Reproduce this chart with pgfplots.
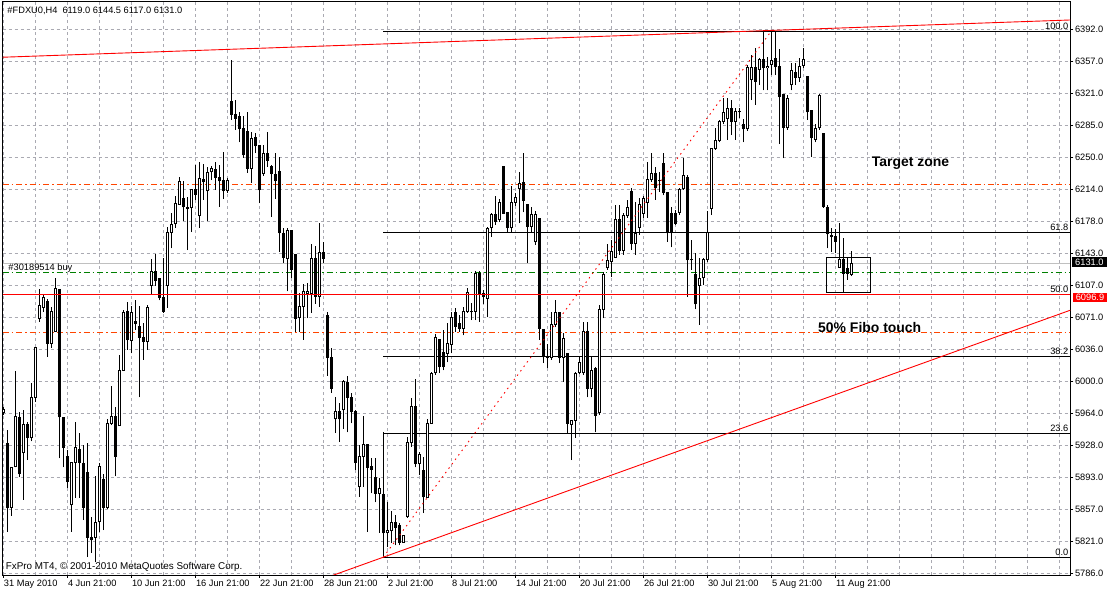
\documentclass[border=0pt]{standalone}
\usepackage{fontspec}
\setmainfont{Liberation Sans}
\usepackage{pgfplots}
\pgfplotsset{compat=1.18}
\usepackage{pgfplotstable}
\definecolor{orred}{RGB}{255,69,0}
\definecolor{mtgreen}{RGB}{0,128,0}
\definecolor{gridc}{RGB}{170,170,178}
\definecolor{bidc}{RGB}{192,192,192}
\newcommand\mtf{\fontsize{9.3}{11}\selectfont}
\newcommand\mtb{\fontsize{14}{16}\selectfont\bfseries}

\pgfplotstableread{
k o h l c
0 5965 5971 5962 5968
1 5931 5946 5832 5859
2 5859 5904 5850 5904
3 5905 6011 5904 5961
4 5960 5966 5893 5897
5 5920 5968 5868 5952
6 5952 5955 5912 5937
7 5937 5998 5933 5982
8 5982 6037 5977 6037
9 6070 6103 6066 6084
10 6082 6097 6077 6093
11 6089 6092 6027 6042
12 6042 6083 6037 6078
13 6055 6115 6055 6103
14 6102 6102 5914 5960
15 5959 5959 5904 5926
16 5916 5923 5881 5888
17 5862 5909 5832 5909
18 5909 5955 5870 5926
19 5924 5942 5870 5909
20 5908 5929 5845 5859
21 5898 5931 5804 5826
22 5826 5849 5809 5823
23 5826 5894 5798 5843
24 5843 5909 5832 5905
25 5890 5897 5834 5859
26 5859 5958 5858 5953
27 5953 5995 5951 5961
28 5961 5971 5894 5916
29 5950 6029 5950 6012
30 6012 6079 6011 6077
31 6078 6088 6035 6046
32 6045 6084 6031 6077
33 6067 6090 6057 6064
34 6061 6084 5982 6049
35 6049 6065 6024 6044
36 6044 6085 6035 6082
37 6107 6136 6097 6122
38 6122 6142 6106 6112
39 6114 6114 6090 6093
40 6093 6137 6076 6078
41 6107 6172 6082 6166
42 6166 6187 6148 6175
43 6175 6206 6171 6198
44 6197 6227 6196 6222
45 6204 6223 6178 6194
46 6194 6205 6146 6192
47 6193 6214 6166 6214
48 6214 6241 6202 6208
49 6184 6244 6171 6226
50 6225 6242 6202 6222
51 6212 6239 6178 6233
52 6233 6240 6224 6237
53 6236 6244 6213 6227
54 6227 6241 6194 6223
55 6223 6255 6203 6212
56 6212 6226 6210 6224
57 6312 6358 6291 6297
58 6297 6313 6280 6293
59 6295 6300 6266 6281
60 6281 6295 6249 6252
61 6278 6300 6232 6237
62 6237 6278 6221 6270
63 6271 6276 6254 6262
64 6263 6263 6198 6213
65 6231 6263 6229 6254
66 6254 6278 6239 6246
67 6239 6241 6183 6231
68 6230 6254 6203 6223
69 6234 6250 6144 6165
70 6165 6171 6132 6138
71 6137 6171 6100 6168
72 6168 6168 6115 6124
73 6141 6141 6055 6070
74 6071 6098 6055 6083
75 6083 6108 6046 6100
76 6098 6109 6070 6100
77 6098 6153 6076 6137
78 6137 6151 6086 6094
79 6094 6176 6083 6143
80 6143 6155 6132 6137
81 6073 6077 6006 6026
82 6026 6037 5987 5992
83 5958 5982 5942 5966
84 5966 5976 5932 5958
85 5968 6001 5947 6000
86 5999 6006 5943 5982
87 5982 5987 5953 5966
88 5966 5968 5901 5909
89 5882 5929 5871 5916
90 5916 5961 5882 5929
91 5929 5929 5832 5904
92 5905 5914 5875 5902
93 5893 5914 5865 5875
94 5875 5892 5831 5880
95 5874 5943 5804 5831
96 5831 5865 5815 5834
97 5833 5855 5820 5842
98 5842 5851 5817 5837
99 5839 5842 5817 5820
100 5820 5828 5820 5828
101 5849 5938 5848 5932
102 5931 5981 5927 5972
103 5972 6002 5904 5908
104 5908 5921 5895 5918
105 5901 5916 5853 5871
106 5870 5958 5870 5953
107 5953 6010 5953 6009
108 6009 6053 6007 6049
109 6046 6046 6009 6016
110 6032 6057 6012 6016
111 6031 6065 6021 6042
112 6041 6077 6031 6071
113 6077 6082 6055 6061
114 6064 6074 6055 6059
115 6059 6083 6051 6078
116 6078 6104 6076 6099
117 6078 6087 6068 6077
118 6078 6123 6068 6120
119 6120 6123 6066 6097
120 6098 6102 6086 6094
121 6092 6172 6071 6170
122 6171 6187 6161 6186
123 6186 6206 6174 6178
124 6180 6203 6177 6199
125 6239 6240 6186 6187
126 6188 6188 6166 6171
127 6171 6217 6166 6199
128 6199 6210 6195 6205
129 6214 6233 6176 6220
130 6221 6254 6188 6201
131 6197 6197 6132 6172
132 6172 6194 6166 6186
133 6155 6190 6152 6186
134 6181 6181 6046 6059
135 6058 6058 6020 6027
136 6027 6041 6015 6026
137 6026 6077 6024 6063
138 6063 6090 6060 6077
139 6077 6077 6020 6026
140 6026 6054 5999 6047
141 6031 6031 5942 5953
142 5952 5956 5912 5956
143 5956 6010 5937 6009
144 6009 6027 6008 6021
145 6009 6066 6007 6055
146 6055 6066 5982 5992
147 5992 6027 5982 6012
148 6014 6016 5943 5962
149 5965 6085 5962 6080
150 6080 6121 6070 6119
151 6126 6153 6124 6134
152 6133 6157 6116 6144
153 6138 6196 6137 6180
154 6180 6196 6141 6146
155 6146 6187 6141 6184
156 6184 6202 6182 6194
157 6211 6215 6146 6153
158 6153 6199 6141 6165
159 6171 6204 6163 6197
160 6187 6206 6182 6203
161 6199 6244 6182 6225
162 6224 6254 6222 6231
163 6231 6239 6202 6216
164 6224 6233 6211 6223
165 6243 6254 6207 6210
166 6210 6211 6155 6165
167 6187 6194 6149 6165
168 6187 6191 6174 6176
169 6188 6215 6185 6214
170 6214 6249 6213 6229
171 6227 6230 6094 6135
172 6136 6157 6124 6135
173 6119 6143 6080 6086
174 6107 6137 6063 6114
175 6115 6137 6107 6136
176 6135 6190 6133 6166
177 6192 6260 6185 6259
178 6259 6282 6258 6268
179 6268 6291 6266 6289
180 6289 6315 6286 6299
181 6293 6315 6269 6304
182 6304 6313 6274 6289
183 6289 6304 6269 6300
184 6300 6304 6293 6300
185 6286 6292 6266 6281
186 6281 6352 6279 6349
187 6336 6363 6313 6349
188 6349 6371 6308 6334
189 6347 6360 6330 6358
190 6358 6389 6324 6349
191 6349 6361 6324 6351
192 6353 6389 6341 6357
193 6360 6390 6341 6350
194 6351 6370 6264 6317
195 6319 6319 6248 6283
196 6282 6319 6280 6315
197 6330 6354 6324 6346
198 6344 6354 6330 6338
199 6338 6360 6333 6351
200 6352 6371 6349 6358
201 6339 6340 6291 6300
202 6301 6302 6250 6271
203 6269 6286 6266 6281
204 6282 6320 6280 6318
205 6276 6276 6193 6194
206 6194 6196 6148 6164
207 6162 6171 6144 6161
208 6161 6170 6143 6156
209 6127 6176 6126 6135
210 6136 6159 6099 6120
211 6126 6138 6113 6120
212 6119 6144.5 6117 6131
}\candles

\begin{document}
\begin{tikzpicture}
\useasboundingbox (-2.5bp,-17bp) rectangle (1105.5bp,575bp);
\begin{axis}[
  at={(0,0)}, anchor=south west,
  scale only axis, width=1067.8bp, height=573.5bp,
  xmin=-0.2, xmax=266.75, ymin=5784.0, ymax=6422.9,
  clip mode=individual,
  axis line style={black, line width=0.9bp},
  tick align=outside, major tick length=3bp, minor tick length=0pt,
  tick style={black, line width=0.8bp},
  xtick pos=left, ytick pos=right, yticklabel pos=right,
  xtick={0,16,...,208},
  xticklabels={31 May 2010, 4 Jun 21:00, 10 Jun 21:00, 16 Jun 21:00, 22 Jun 21:00, 28 Jun 21:00, 2 Jul 21:00, 8 Jul 21:00, 14 Jul 21:00, 20 Jul 21:00, 26 Jul 21:00, 30 Jul 21:00, 5 Aug 21:00, 11 Aug 21:00},
  minor xtick={8,24,40,56,72,88,104,120,136,152,168,184,200,216,224,232,240,248,256,264},
  ytick={5786.0,5821.6,5857.3,5892.9,5928.6,5964.2,5999.9,6035.5,6071.2,6106.8,6142.5,6178.1,6213.8,6249.4,6285.1,6320.7,6356.4,6392.0},
  yticklabels={5786.0,5821.0,5857.0,5893.0,5928.0,5964.0,6000.0,6036.0,6071.0,6107.0,6143.0,6178.0,6214.0,6250.0,6285.0,6321.0,6357.0,6392.0},
  xmajorgrids, xminorgrids, ymajorgrids,
  major grid style={gridc, line width=0.8bp, dash pattern=on 3bp off 3bp},
  minor grid style={gridc, line width=0.8bp, dash pattern=on 3bp off 3bp},
  xticklabel style={anchor=north west, inner sep=0pt, xshift=0.5bp, yshift=-2bp, font=\mtf},
  yticklabel style={anchor=west, inner sep=0pt, xshift=1.5bp, font=\mtf},
]
% reference lines behind candles
\addplot[bidc, line width=0.9bp] coordinates {(-0.2,6131) (266.75,6131)};
\addplot[orred, line width=0.9bp, dash pattern=on 6bp off 3bp on 1.5bp off 3bp] coordinates {(-0.2,6219.6) (266.75,6219.6)};
\addplot[orred, line width=0.9bp, dash pattern=on 6bp off 3bp on 1.5bp off 3bp] coordinates {(-0.2,6054.4) (266.75,6054.4)};
\addplot[mtgreen, line width=0.9bp, dash pattern=on 6bp off 3bp on 1.5bp off 3bp] coordinates {(-0.2,6121.3) (266.75,6121.3)};
% fibo levels
\addplot[black, line width=0.9bp] coordinates {(95,6390.0) (266.75,6390.0)};
\addplot[black, line width=0.9bp] coordinates {(95,6166.1) (266.75,6166.1)};
\addplot[black, line width=0.9bp] coordinates {(95,6027.7) (266.75,6027.7)};
\addplot[black, line width=0.9bp] coordinates {(95,5942.1) (266.75,5942.1)};
\addplot[black, line width=0.9bp] coordinates {(95,5803.8) (266.75,5803.8)};
% candles: wicks, bodies, hollow interiors
\addplot[black, line width=1bp, no markers, -, quiver={u=0, v={\thisrow{h}-\thisrow{l}}}] table[x=k, y=l] {\candles};
\addplot[black, line width=3bp, no markers, -, quiver={u=0, v={abs(\thisrow{c}-\thisrow{o})+1}}] table[x=k, y expr={min(\thisrow{o},\thisrow{c})-0.5}] {\candles};
\addplot[white, line width=1bp, no markers, -, quiver={u=0, v={\thisrow{c}-\thisrow{o}-1.23}}, x filter/.expression={\thisrow{c}-\thisrow{o}>1.3 ? x : nan}] table[x=k, y expr={\thisrow{o}+0.61}] {\candles};
% red horizontal
\addplot[red, line width=0.9bp] coordinates {(-0.2,6096.9) (266.75,6096.9)};
% trend lines
\addplot[red, line width=0.9bp] coordinates {(-0.2,6360.8) (266.75,6402.3)};
\addplot[red, line width=0.9bp] coordinates {(82,5783.0) (266.75,6079.0)};
\addplot[red, line width=0.9bp, dash pattern=on 1.5bp off 4bp] coordinates {(95,5803.8) (192,6390.0)};
% box
\addplot[black, line width=0.9bp] coordinates {(205.7,6138.0) (216.8,6138.0) (216.8,6098.5) (205.7,6098.5) (205.7,6138.0)};
\end{axis}
% fibo labels
\node[anchor=south east, inner sep=0pt, font=\mtf] at (1066.0bp,545.5bp) {100.0};
\node[anchor=south east, inner sep=0pt, font=\mtf] at (1066.0bp,344.5bp) {61.8};
\node[anchor=south east, inner sep=0pt, font=\mtf] at (1066.0bp,282.5bp) {50.0};
\node[anchor=south east, inner sep=0pt, font=\mtf] at (1066.0bp,220.5bp) {38.2};
\node[anchor=south east, inner sep=0pt, font=\mtf] at (1066.0bp,143.5bp) {23.6};
\node[anchor=south east, inner sep=0pt, font=\mtf] at (1066.0bp,19.5bp) {0.0};
% price boxes
\node[fill=black, text=white, font=\mtf, inner sep=0pt, minimum width=34.5bp, minimum height=9.4bp] at (1086.9bp,313bp) {6131.0};
\node[fill=red, text=white, font=\mtf, inner sep=0pt, minimum width=34bp, minimum height=9bp] at (1087.5bp,277.8bp) {6096.9};
% texts
\node[anchor=base west, inner sep=0pt, font=\mtf] at (4.8bp,561bp) {\#FDXU0,H4\ \ 6119.0 6144.5 6117.0 6131.0};
\node[anchor=base west, inner sep=0pt, font=\fontsize{9.9}{11}\selectfont] at (3.2bp,5.7bp) {FxPro MT4, © 2001-2010 MetaQuotes Software Corp.};
\node[anchor=base west, inner sep=0pt, font=\mtf] at (5.8bp,304.5bp) {\#30189514 buy};
\node[anchor=base west, inner sep=0pt, font=\mtb] at (869.2bp,408.7bp) {Target zone};
\node[anchor=base west, inner sep=0pt, font=\mtb] at (815.5bp,242.5bp) {50\% Fibo touch};
\end{tikzpicture}
\end{document}
